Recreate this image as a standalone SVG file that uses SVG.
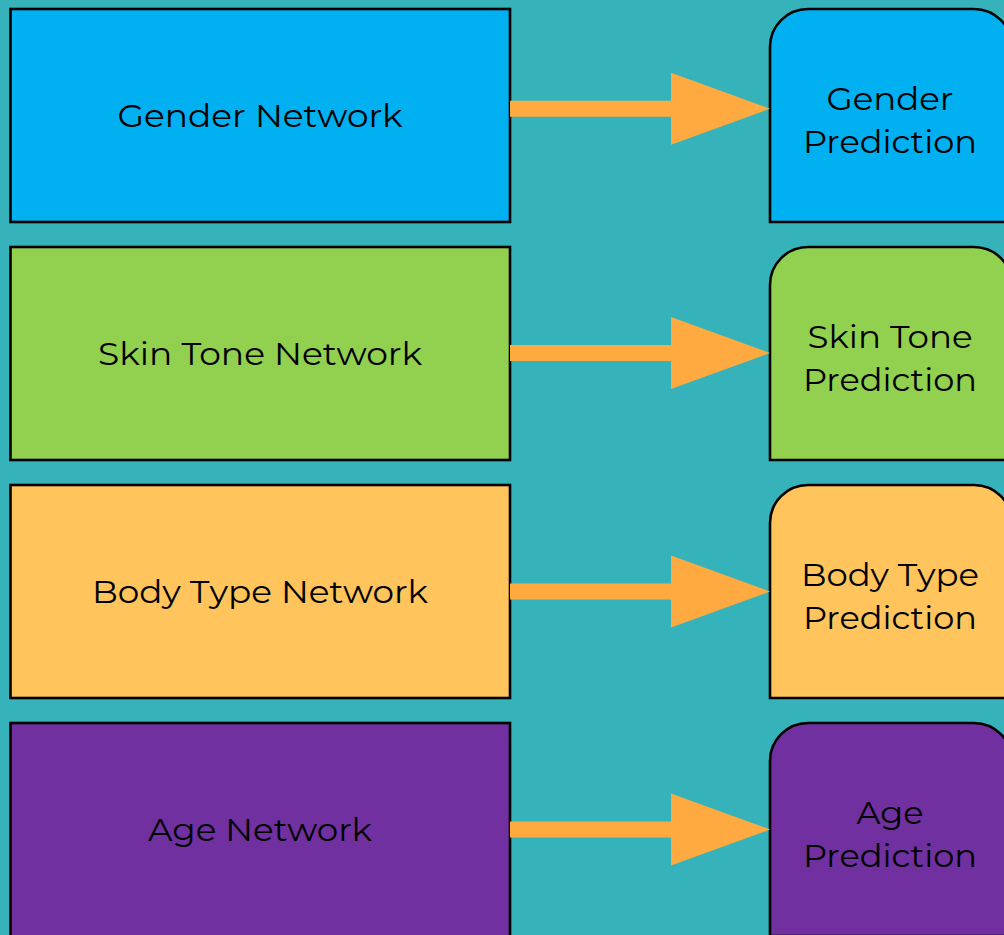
<svg xmlns="http://www.w3.org/2000/svg" width="1004" height="935" viewBox="0 0 1004 935">
  <defs>
    <style>
      .box { stroke: #000; stroke-width: 2.6; }
      .blue { fill: #00B0F0; }
      .green { fill: #92D050; }
      .yellow { fill: #FFC55C; }
      .purple { fill: #7030A0; }
      .lbl { font-family: "Montserrat", "Inter", "Open Sans", "Liberation Sans", sans-serif; font-size: 31.5px; fill: #000; text-anchor: middle; }
      .arrow { fill: #FFAA40; }
    </style>
    <!-- prediction box: rounded top corners, square bottom; origin at top-left -->
    <path id="predShape" d="M0,213 V38 A38,38 0 0 1 38,0 H204 A38,38 0 0 1 242,38 V213 Z"/>
    <!-- block arrow from network box to prediction box -->
    <path id="arrowShape" d="M0,-8 H161 V-36 L260,0 L161,36 V8 H0 Z"/>
  </defs>

  <rect x="0" y="0" width="1004" height="935" fill="#36B3BA"/>

  <!-- Row 1: gender -->
  <g id="gender-network">
    <rect class="box blue" x="10.5" y="9" width="499.5" height="213"/>
    <text class="lbl" x="260" y="127" textLength="285" lengthAdjust="spacingAndGlyphs">Gender Network</text>
  </g>
  <g id="gender-prediction">
    <use href="#predShape" class="box blue" x="770" y="9"/>
    <text class="lbl" x="890" y="110" textLength="127" lengthAdjust="spacingAndGlyphs">Gender</text>
    <text class="lbl" x="890" y="153" textLength="174" lengthAdjust="spacingAndGlyphs">Prediction</text>
  </g>

  <!-- Row 2: skin tone -->
  <g id="skin-tone-network">
    <rect class="box green" x="10.5" y="247" width="499.5" height="213"/>
    <text class="lbl" x="260" y="365" textLength="324" lengthAdjust="spacingAndGlyphs">Skin Tone Network</text>
  </g>
  <g id="skin-tone-prediction">
    <use href="#predShape" class="box green" x="770" y="247"/>
    <text class="lbl" x="890" y="348" textLength="165" lengthAdjust="spacingAndGlyphs">Skin Tone</text>
    <text class="lbl" x="890" y="391" textLength="174" lengthAdjust="spacingAndGlyphs">Prediction</text>
  </g>

  <!-- Row 3: body type -->
  <g id="body-type-network">
    <rect class="box yellow" x="10.5" y="485" width="499.5" height="213"/>
    <text class="lbl" x="260" y="603" textLength="336" lengthAdjust="spacingAndGlyphs">Body Type Network</text>
  </g>
  <g id="body-type-prediction">
    <use href="#predShape" class="box yellow" x="770" y="485"/>
    <text class="lbl" x="890" y="586" textLength="178" lengthAdjust="spacingAndGlyphs">Body Type</text>
    <text class="lbl" x="890" y="629" textLength="174" lengthAdjust="spacingAndGlyphs">Prediction</text>
  </g>

  <!-- Row 4: age -->
  <g id="age-network">
    <rect class="box purple" x="10.5" y="723" width="499.5" height="220"/>
    <text class="lbl" x="260" y="841" textLength="224" lengthAdjust="spacingAndGlyphs">Age Network</text>
  </g>
  <g id="age-prediction">
    <use href="#predShape" class="box purple" x="770" y="723"/>
    <text class="lbl" x="890" y="824" textLength="67" lengthAdjust="spacingAndGlyphs">Age</text>
    <text class="lbl" x="890" y="867" textLength="174" lengthAdjust="spacingAndGlyphs">Prediction</text>
  </g>

  <!-- connectors -->
  <g id="connectors">
    <use href="#arrowShape" class="arrow" x="510" y="108.7"/>
    <use href="#arrowShape" class="arrow" x="510" y="353"/>
    <use href="#arrowShape" class="arrow" x="510" y="591.5"/>
    <use href="#arrowShape" class="arrow" x="510" y="829.5"/>
  </g>
</svg>
